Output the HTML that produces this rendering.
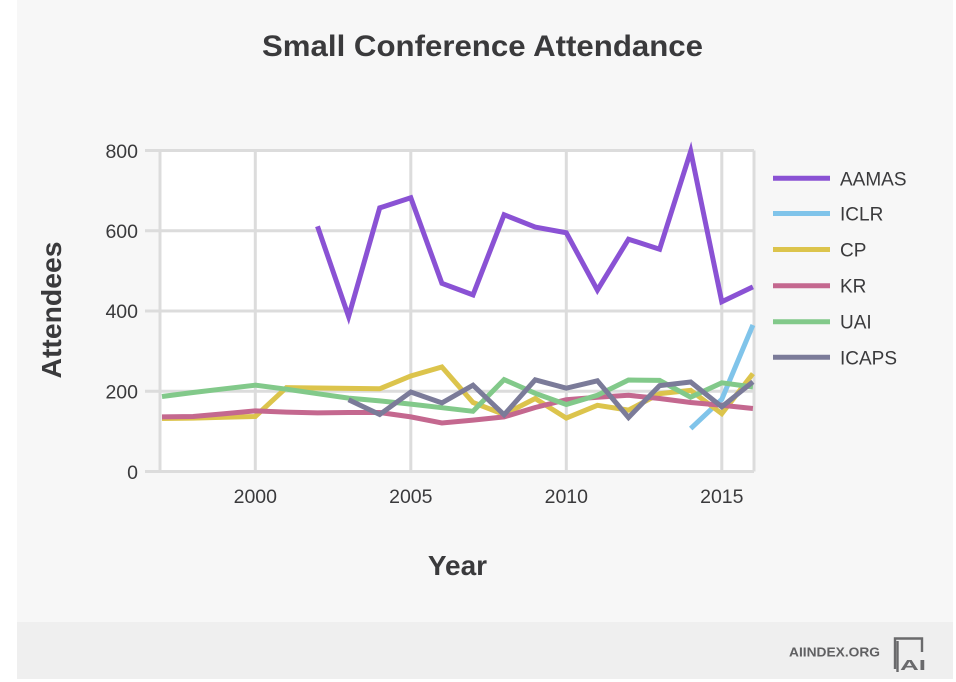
<!DOCTYPE html>
<html>
<head>
<meta charset="utf-8">
<style>
  html, body { margin:0; padding:0; background:#ffffff; }
  body { width:956px; height:682px; overflow:hidden; position:relative; }
  svg { position:absolute; left:0; top:0; }
  text { font-family: "Liberation Sans", Arial, sans-serif; }
</style>
</head>
<body>
<svg width="956" height="682" viewBox="0 0 956 682" xmlns="http://www.w3.org/2000/svg">
  <!-- panel backgrounds -->
  <rect x="17" y="0" width="936" height="622" fill="#f7f7f7"/>
  <rect x="17" y="622" width="936" height="57" fill="#efefef"/>

  <!-- title -->
  <text x="482.5" y="56" text-anchor="middle" font-size="30" font-weight="bold" fill="#3a3a3c" textLength="441" lengthAdjust="spacingAndGlyphs">Small Conference Attendance</text>

  <!-- plot background -->
  <rect x="160" y="150.5" width="594" height="321" fill="#ffffff"/>

  <!-- grid lines -->
  <g stroke="#dcdcdc" stroke-width="3" fill="none">
    <line x1="145" y1="150.5" x2="754" y2="150.5"/>
    <line x1="145" y1="230.8" x2="754" y2="230.8"/>
    <line x1="145" y1="311" x2="754" y2="311"/>
    <line x1="145" y1="391.25" x2="754" y2="391.25"/>
    <line x1="145" y1="471.5" x2="754" y2="471.5"/>
    <line x1="160" y1="150.5" x2="160" y2="471.5"/>
    <line x1="754" y1="150.5" x2="754" y2="471.5"/>
    <line x1="255.3" y1="150.5" x2="255.3" y2="471.5"/>
    <line x1="410.8" y1="150.5" x2="410.8" y2="471.5"/>
    <line x1="566.3" y1="150.5" x2="566.3" y2="471.5"/>
    <line x1="721.8" y1="150.5" x2="721.8" y2="471.5"/>
  </g>

  <!-- y tick labels -->
  <g font-size="19.5" fill="#3a3a3c" text-anchor="end">
    <text x="138" y="158">800</text>
    <text x="138" y="238">600</text>
    <text x="138" y="318">400</text>
    <text x="138" y="398.5">200</text>
    <text x="138" y="479">0</text>
  </g>
  <!-- x tick labels -->
  <g font-size="19.5" fill="#3a3a3c" text-anchor="middle">
    <text x="255.3" y="503">2000</text>
    <text x="410.8" y="503">2005</text>
    <text x="566.3" y="503">2010</text>
    <text x="721.8" y="503">2015</text>
  </g>

  <!-- axis titles -->
  <text x="457.5" y="575" text-anchor="middle" font-size="28" font-weight="bold" fill="#3a3a3c">Year</text>
  <text transform="translate(61,310) rotate(-90)" x="0" y="0" text-anchor="middle" font-size="28" font-weight="bold" fill="#3a3a3c" textLength="137" lengthAdjust="spacingAndGlyphs">Attendees</text>

  <!-- series -->
  <g fill="none" stroke-width="5" stroke-linejoin="miter" stroke-miterlimit="10" stroke-linecap="butt">
    <!-- AAMAS -->
    <polyline stroke="#8a52d4" points="317.5,226.3 348.6,316.6 379.7,207.9 410.8,197.8 441.9,283.3 473.0,294.9 504.1,214.7 535.2,227.1 566.3,232.8 597.4,290.1 628.5,239.2 659.6,249.2 690.7,151.3 721.8,301.8 752.9,286.9"/>
    <!-- ICLR -->
    <polyline stroke="#80c4ea" points="690.7,428.6 721.8,399.3 752.9,325.0"/>
    <!-- CP -->
    <polyline stroke="#dcc44c" points="162,418.5 193.1,418.1 224.2,417.3 255.3,416.5 286.4,387.6 317.5,388.0 348.6,388.4 379.7,388.8 410.8,376.0 441.9,367.0 473.0,402.5 504.1,414.5 535.2,398.5 566.3,418.1 597.4,405.3 628.5,410.1 659.6,393.7 690.7,390.4 721.8,413.7 752.9,373.6"/>
    <!-- KR -->
    <polyline stroke="#c4688f" points="162,416.9 193.1,416.5 224.2,413.7 255.3,410.9 286.4,412.1 317.5,412.9 348.6,412.5 379.7,412.5 410.8,416.9 441.9,423.0 473.0,420.1 504.1,416.9 535.2,407.5 566.3,399.7 597.4,397.2 628.5,395.3 659.6,398.5 690.7,402.5 721.8,405.3 752.9,408.5"/>
    <!-- UAI -->
    <polyline stroke="#82c98a" points="162,396.5 193.1,392.5 224.2,388.8 255.3,385.2 286.4,389.2 317.5,393.7 348.6,398.1 379.7,400.9 410.8,404.1 441.9,407.7 473.0,411.3 504.1,379.6 535.2,393.3 566.3,404.5 597.4,395.3 628.5,380.0 659.6,380.4 690.7,397.2 721.8,382.8 752.9,387.0"/>
    <!-- ICAPS -->
    <polyline stroke="#7b7b99" points="348.6,399.7 379.7,414.5 410.8,392.0 441.9,402.9 473.0,385.2 504.1,414.8 535.2,379.8 566.3,388.2 597.4,380.8 628.5,417.5 659.6,385.6 690.7,382.0 721.8,406.8 752.9,381.8"/>
  </g>

  <!-- legend -->
  <g stroke-width="5">
    <line x1="773" y1="178.3" x2="830" y2="178.3" stroke="#8a52d4"/>
    <line x1="773" y1="213.5" x2="830" y2="213.5" stroke="#80c4ea"/>
    <line x1="773" y1="249.5" x2="830" y2="249.5" stroke="#dcc44c"/>
    <line x1="773" y1="285.7" x2="830" y2="285.7" stroke="#c4688f"/>
    <line x1="773" y1="321.7" x2="830" y2="321.7" stroke="#82c98a"/>
    <line x1="773" y1="357.3" x2="830" y2="357.3" stroke="#7b7b99"/>
  </g>
  <g font-size="19" fill="#3a3a3c">
    <text x="840" y="185.3">AAMAS</text>
    <text x="840" y="220.5">ICLR</text>
    <text x="840" y="256.5">CP</text>
    <text x="840" y="292.7">KR</text>
    <text x="840" y="328.7">UAI</text>
    <text x="840" y="364.3">ICAPS</text>
  </g>

  <!-- footer -->
  <text x="789" y="656.5" font-size="13" font-weight="bold" fill="#606062" textLength="91" lengthAdjust="spacingAndGlyphs">AIINDEX.ORG</text>
  <g fill="none" stroke="#6a6a6c" stroke-width="2.4">
    <polyline points="895,669 895,638.5 922,638.5 922,652"/>
    <polyline points="897.5,672 897.5,641"/>
  </g>
  <text x="900" y="670" font-size="15" font-weight="bold" fill="#6a6a6c" font-family="Liberation Mono, monospace" textLength="26" lengthAdjust="spacingAndGlyphs">AI</text>
</svg>
</body>
</html>
